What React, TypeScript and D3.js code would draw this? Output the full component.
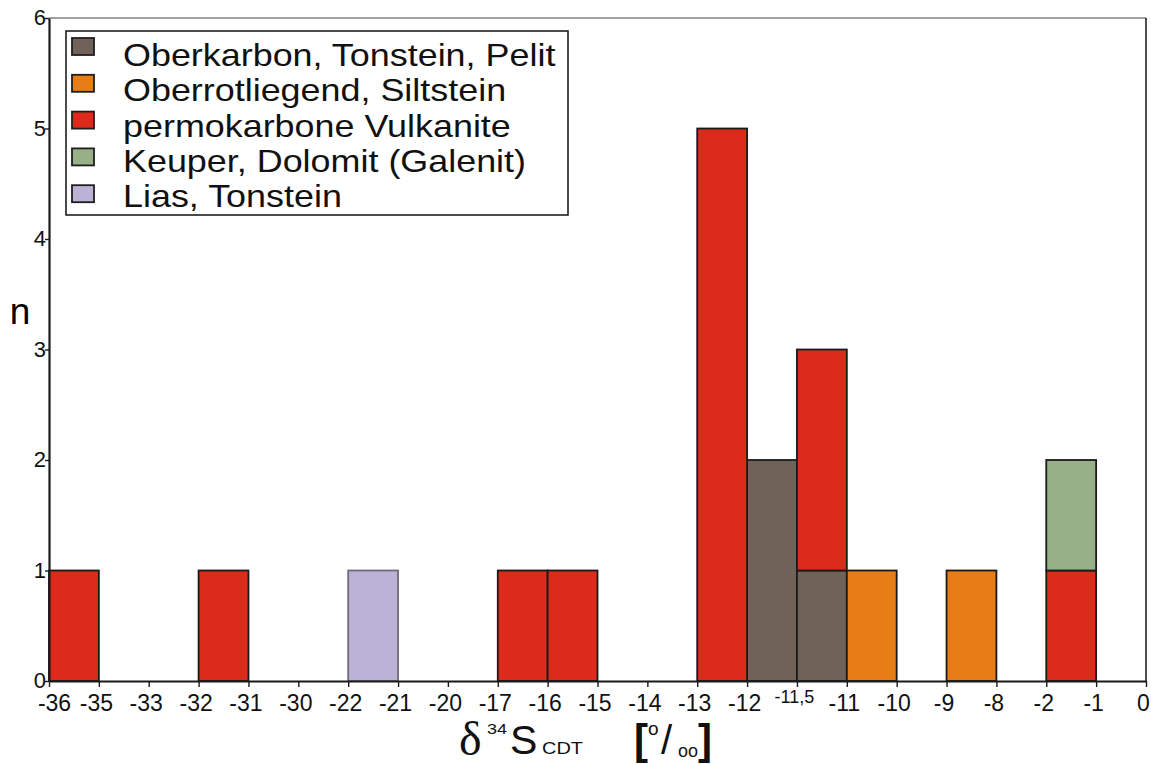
import React, { useEffect, useRef } from 'react';
import * as d3 from 'd3';

// x axis tick labels (evenly spaced slots, not a linear scale)
const tickLabels = ["-36", "-35", "-33", "-32", "-31", "-30", "-22", "-21", "-20", "-17", "-16", "-15", "-14", "-13", "-12", "-11,5", "-11", "-10", "-9", "-8", "-2", "-1", "0"];
const yTicks = [0, 1, 2, 3, 4, 5, 6];

// each bin runs from its start label to the next tick label
const binStart = ["-36", "-32", "-22", "-17", "-16", "-13", "-12", "-11,5", "-11", "-9", "-2"];
const oberkarbon = [0, 0, 0, 0, 0, 0, 2, 1, 0, 0, 0];
const oberrot = [0, 0, 0, 0, 0, 0, 0, 0, 1, 1, 0];
const permo = [1, 1, 0, 1, 1, 5, 0, 2, 0, 0, 1];
const keuper = [0, 0, 0, 0, 0, 0, 0, 0, 0, 0, 1];
const lias = [0, 0, 1, 0, 0, 0, 0, 0, 0, 0, 0];

const keys = ["oberkarbon", "oberrot", "permo", "keuper", "lias"];
const legendLabels = ["Oberkarbon, Tonstein, Pelit", "Oberrotliegend, Siltstein", "permokarbone Vulkanite", "Keuper, Dolomit (Galenit)", "Lias, Tonstein"];
const colors = ["#716259", "#e87d17", "#dc2b1a", "#97b088", "#bbb2d6"];

const W = 1151, H = 764;
const left = 49, right = 1146, top = 18, bottom = 681;
const font = "'Liberation Sans', Arial, Helvetica, sans-serif";

const App = () => {
    const ref = useRef(null);

    useEffect(() => {
        const svg = d3.select(ref.current);
        svg.selectAll("*").remove();

        const rows = binStart.map((b, i) => ({
            bin: b,
            oberkarbon: oberkarbon[i],
            oberrot: oberrot[i],
            permo: permo[i],
            keuper: keuper[i],
            lias: lias[i]
        }));

        const x = d3.scalePoint().domain(tickLabels).range([left, right]);
        const y = d3.scaleLinear().domain([0, 6]).range([bottom, top]);
        const nextOf = (b) => tickLabels[tickLabels.indexOf(b) + 1];
        const xEnd = x(tickLabels[tickLabels.length - 1]);

        const layers = d3.stack().keys(keys)(rows);

        // bars
        svg.append("g")
            .selectAll("g")
            .data(layers)
            .join("g")
            .attr("fill", (d, i) => colors[i])
            .attr("stroke", (d, i) => (keys[i] == "lias" ? "#6f6a80" : "#1a1a1a"))
            .attr("stroke-width", 1.8)
            .selectAll("rect")
            .data(d => d.filter(s => s[1] - s[0] > 0))
            .join("rect")
            .attr("x", s => x(s.data.bin))
            .attr("width", s => x(nextOf(s.data.bin)) - x(s.data.bin))
            .attr("y", s => y(s[1]))
            .attr("height", s => y(s[0]) - y(s[1]));

        // frame: top and right
        svg.append("line")
            .attr("x1", left).attr("x2", xEnd).attr("y1", top).attr("y2", top)
            .attr("stroke", "#444").attr("stroke-width", 1.2);
        svg.append("line")
            .attr("x1", xEnd).attr("x2", xEnd).attr("y1", top).attr("y2", bottom)
            .attr("stroke", "#222").attr("stroke-width", 1.6);

        // y axis
        const yAxis = svg.append("g")
            .attr("transform", `translate(${left},0)`)
            .call(d3.axisLeft(y).tickValues(yTicks).tickSize(4).tickSizeOuter(0).tickFormat(d3.format("d")));
        yAxis.select(".domain").attr("stroke", "#1a1a1a").attr("stroke-width", 2.2);
        yAxis.selectAll(".tick line").attr("stroke", "#1a1a1a").attr("stroke-width", 1.4);
        yAxis.selectAll(".tick text")
            .attr("x", -3)
            .attr("dy", "0.3em")
            .style("font-family", font)
            .style("font-size", "22px")
            .attr("fill", "#111");

        // x axis
        const xAxis = svg.append("g")
            .attr("transform", `translate(0,${bottom})`)
            .call(d3.axisBottom(x).tickSize(6).tickSizeOuter(0));
        xAxis.select(".domain").attr("stroke", "#1a1a1a").attr("stroke-width", 2.2);
        xAxis.selectAll(".tick line").attr("stroke", "#1a1a1a").attr("stroke-width", 1.4);
        xAxis.selectAll(".tick text")
            .attr("x", (d, i) => (i == 0 ? 5 : -3))
            .attr("y", d => (d == "-11,5" ? 22 : 30))
            .attr("dy", 0)
            .style("font-family", font)
            .style("font-size", d => (d == "-11,5" ? "18px" : "23px"))
            .attr("fill", "#111");

        // y title
        svg.append("text")
            .attr("x", 20).attr("y", 324)
            .attr("text-anchor", "middle")
            .style("font-family", font)
            .style("font-size", "37px")
            .text("n");

        // x title pieces
        const title = svg.append("g").attr("fill", "#111").style("font-family", font);
        title.append("text").attr("x", 459).attr("y", 755)
            .style("font-family", "'Liberation Serif', 'Times New Roman', serif")
            .style("font-size", "48px").text("δ");
        title.append("text").attr("x", 487).attr("y", 734)
            .attr("textLength", 20).attr("lengthAdjust", "spacingAndGlyphs")
            .style("font-size", "15px").text("34");
        title.append("text").attr("x", 510).attr("y", 754).style("font-size", "41px").text("S");
        title.append("text").attr("x", 542).attr("y", 754)
            .attr("textLength", 41).attr("lengthAdjust", "spacingAndGlyphs")
            .style("font-size", "16px").text("CDT");
        title.append("text").attr("x", 634).attr("y", 754).style("font-size", "42px").style("font-weight", "bold").text("[");
        title.append("text").attr("x", 648).attr("y", 735).style("font-size", "19px").text("o");
        title.append("text").attr("x", 661).attr("y", 754).style("font-size", "40px").text("/");
        title.append("text").attr("x", 678).attr("y", 757)
            .attr("textLength", 20).attr("lengthAdjust", "spacingAndGlyphs")
            .style("font-size", "18px").text("oo");
        title.append("text").attr("x", 698).attr("y", 754).style("font-size", "42px").style("font-weight", "bold").text("]");

        // legend
        const legend = svg.append("g");
        legend.append("rect")
            .attr("x", 66).attr("y", 31).attr("width", 502).attr("height", 184)
            .attr("fill", "#fff").attr("stroke", "#1e1e1e").attr("stroke-width", 1.6);
        legend.selectAll(".sw")
            .data(legendLabels)
            .join("rect")
            .attr("class", "sw")
            .attr("x", 72)
            .attr("y", (d, i) => 38 + i * 36.8)
            .attr("width", 22).attr("height", 17)
            .attr("fill", (d, i) => colors[i])
            .attr("stroke", "#1e1e1e").attr("stroke-width", 1.8);
        // text is a little wider than tall in the original, so stretch it horizontally
        legend.selectAll(".lt")
            .data(legendLabels)
            .join("text")
            .attr("class", "lt")
            .attr("transform", (d, i) => `translate(123,${66 + i * 35.3}) scale(1.14,1)`)
            .style("font-family", font)
            .style("font-size", "31.5px")
            .attr("fill", "#111")
            .text(d => d);
    }, []);

    return (
        <svg ref={ref} width={W} height={H}
             style={{ position: 'absolute', left: 0, top: 0, background: '#fff' }} />
    );
};

export default App;
